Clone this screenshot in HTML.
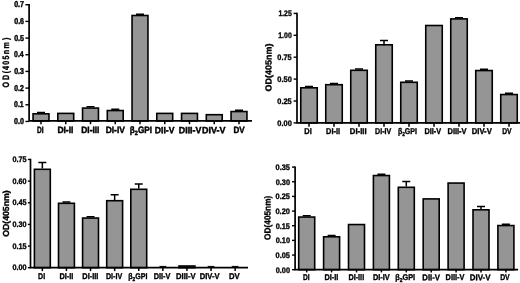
<!DOCTYPE html>
<html><head><meta charset="utf-8"><title>OD(405nm) bar charts</title>
<style>
html,body{margin:0;padding:0;background:#fff}
.t{font-family:"Liberation Sans","DejaVu Sans",sans-serif;font-weight:bold;fill:#000;stroke:#000;stroke-width:.35px}
</style></head><body>
<svg width="520" height="283" viewBox="0 0 520 283" style="display:block;filter:blur(.35px)"><rect width="520" height="283" fill="#fff"/><g id="TL"><path d="M41.00 113.00V112.55M37.00 112.55H45.00" stroke="#000" stroke-width="1.5" fill="none"/><rect x="33.05" y="113.80" width="15.90" height="7.15" fill="#959595" stroke="#000" stroke-width="1.6"/><path d="M41.00 120.95V124.20" stroke="#000" stroke-width="1.5"/><rect x="57.80" y="113.40" width="15.90" height="7.55" fill="#959595" stroke="#000" stroke-width="1.6"/><path d="M65.75 120.95V124.20" stroke="#000" stroke-width="1.5"/><path d="M90.50 107.25V106.80M86.50 106.80H94.50" stroke="#000" stroke-width="1.5" fill="none"/><rect x="82.55" y="108.05" width="15.90" height="12.90" fill="#959595" stroke="#000" stroke-width="1.6"/><path d="M90.50 120.95V124.20" stroke="#000" stroke-width="1.5"/><path d="M115.25 109.75V109.30M111.25 109.30H119.25" stroke="#000" stroke-width="1.5" fill="none"/><rect x="107.30" y="110.55" width="15.90" height="10.40" fill="#959595" stroke="#000" stroke-width="1.6"/><path d="M115.25 120.95V124.20" stroke="#000" stroke-width="1.5"/><path d="M140.00 14.70V14.25M136.00 14.25H144.00" stroke="#000" stroke-width="1.5" fill="none"/><rect x="132.05" y="15.50" width="15.90" height="105.45" fill="#959595" stroke="#000" stroke-width="1.6"/><path d="M140.00 120.95V124.20" stroke="#000" stroke-width="1.5"/><rect x="156.80" y="113.40" width="15.90" height="7.55" fill="#959595" stroke="#000" stroke-width="1.6"/><path d="M164.75 120.95V124.20" stroke="#000" stroke-width="1.5"/><rect x="181.55" y="113.40" width="15.90" height="7.55" fill="#959595" stroke="#000" stroke-width="1.6"/><path d="M189.50 120.95V124.20" stroke="#000" stroke-width="1.5"/><rect x="206.30" y="114.70" width="15.90" height="6.25" fill="#959595" stroke="#000" stroke-width="1.6"/><path d="M214.25 120.95V124.20" stroke="#000" stroke-width="1.5"/><path d="M239.00 110.75V110.30M235.00 110.30H243.00" stroke="#000" stroke-width="1.5" fill="none"/><rect x="231.05" y="111.55" width="15.90" height="9.40" fill="#959595" stroke="#000" stroke-width="1.6"/><path d="M239.00 120.95V124.20" stroke="#000" stroke-width="1.5"/><path d="M29.10 4.02V120.95H252.00" stroke="#000" stroke-width="1.7" fill="none" stroke-linejoin="miter"/><path d="M25.40 121.45H29.10" stroke="#000" stroke-width="1.4"/><text id="TL_t0" transform="rotate(.03 14.10 124.00)" x="14.10" y="124.00" textLength="9.91" lengthAdjust="spacingAndGlyphs" class="t" font-size="8.5" style="stroke-width:.45px">0.0</text><path d="M25.40 104.78H29.10" stroke="#000" stroke-width="1.4"/><text id="TL_t1" transform="rotate(.03 14.10 107.33)" x="14.10" y="107.33" textLength="9.60" lengthAdjust="spacingAndGlyphs" class="t" font-size="8.5" style="stroke-width:.45px">0.1</text><path d="M25.40 88.10H29.10" stroke="#000" stroke-width="1.4"/><text id="TL_t2" transform="rotate(.03 14.22 90.65)" x="14.22" y="90.65" textLength="9.49" lengthAdjust="spacingAndGlyphs" class="t" font-size="8.5" style="stroke-width:.45px">0.2</text><path d="M25.40 71.42H29.10" stroke="#000" stroke-width="1.4"/><text id="TL_t3" transform="rotate(.03 14.21 73.97)" x="14.21" y="73.97" textLength="9.80" lengthAdjust="spacingAndGlyphs" class="t" font-size="8.5" style="stroke-width:.45px">0.3</text><path d="M25.40 54.75H29.10" stroke="#000" stroke-width="1.4"/><text id="TL_t4" transform="rotate(.03 14.10 57.30)" x="14.10" y="57.30" textLength="9.58" lengthAdjust="spacingAndGlyphs" class="t" font-size="8.5" style="stroke-width:.45px">0.4</text><path d="M25.40 38.08H29.10" stroke="#000" stroke-width="1.4"/><text id="TL_t5" transform="rotate(.03 14.19 40.62)" x="14.19" y="40.62" textLength="9.81" lengthAdjust="spacingAndGlyphs" class="t" font-size="8.5" style="stroke-width:.45px">0.5</text><path d="M25.40 21.40H29.10" stroke="#000" stroke-width="1.4"/><text id="TL_t6" transform="rotate(.03 14.19 23.95)" x="14.19" y="23.95" textLength="9.86" lengthAdjust="spacingAndGlyphs" class="t" font-size="8.5" style="stroke-width:.45px">0.6</text><path d="M25.40 4.72H29.10" stroke="#000" stroke-width="1.4"/><text id="TL_t7" transform="rotate(.03 14.16 7.27)" x="14.16" y="7.27" textLength="9.76" lengthAdjust="spacingAndGlyphs" class="t" font-size="8.5" style="stroke-width:.45px">0.7</text><text id="TL_l0" transform="rotate(.03 37.08 133.30)" x="37.08" y="133.30" textLength="6.57" lengthAdjust="spacingAndGlyphs" class="t" font-size="9.2" style="stroke-width:.45px">DI</text><text id="TL_l1" transform="rotate(.03 57.38 133.30)" x="57.38" y="133.30" textLength="16.02" lengthAdjust="spacingAndGlyphs" class="t" font-size="9.2" style="stroke-width:.45px">DI-II</text><text id="TL_l2" transform="rotate(.03 81.24 133.30)" x="81.24" y="133.30" textLength="18.18" lengthAdjust="spacingAndGlyphs" class="t" font-size="9.2" style="stroke-width:.45px">DI-III</text><text id="TL_l3" transform="rotate(.03 105.68 133.30)" x="105.68" y="133.30" textLength="19.16" lengthAdjust="spacingAndGlyphs" class="t" font-size="9.2" style="stroke-width:.45px">DI-IV</text><text id="TL_l4" transform="rotate(.03 129.86 133.30)" x="129.86" y="133.30" textLength="22.12" lengthAdjust="spacingAndGlyphs" class="t" font-size="9.2" style="stroke-width:.45px">β<tspan font-size="6.26" dy="2.02">2</tspan><tspan dy="-2.02">GPI</tspan></text><text id="TL_l5" transform="rotate(.03 154.86 133.30)" x="154.86" y="133.30" textLength="19.53" lengthAdjust="spacingAndGlyphs" class="t" font-size="9.2" style="stroke-width:.45px">DII-V</text><text id="TL_l6" transform="rotate(.03 178.82 133.30)" x="178.82" y="133.30" textLength="22.58" lengthAdjust="spacingAndGlyphs" class="t" font-size="9.2" style="stroke-width:.45px">DIII-V</text><text id="TL_l7" transform="rotate(.03 202.06 133.30)" x="202.06" y="133.30" textLength="23.37" lengthAdjust="spacingAndGlyphs" class="t" font-size="9.2" style="stroke-width:.45px">DIV-V</text><text id="TL_l8" transform="rotate(.03 233.41 133.30)" x="233.41" y="133.30" textLength="11.15" lengthAdjust="spacingAndGlyphs" class="t" font-size="9.2" style="stroke-width:.45px">DV</text><text id="TL_title" class="t" font-size="9.2" transform="translate(9.30 87.50) rotate(-89.97) scale(0.77 1)" x="0.00 9.60 18.51 22.62 29.48 36.34 43.20 50.74 61.71">OD(405nm)</text></g><g id="TR"><path d="M309.00 87.00V86.55M305.00 86.55H313.00" stroke="#000" stroke-width="1.5" fill="none"/><rect x="300.75" y="87.80" width="16.50" height="35.10" fill="#959595" stroke="#000" stroke-width="1.6"/><path d="M309.00 122.90V126.70" stroke="#000" stroke-width="1.5"/><path d="M334.00 83.90V83.45M330.00 83.45H338.00" stroke="#000" stroke-width="1.5" fill="none"/><rect x="325.75" y="84.70" width="16.50" height="38.20" fill="#959595" stroke="#000" stroke-width="1.6"/><path d="M334.00 122.90V126.70" stroke="#000" stroke-width="1.5"/><path d="M359.00 69.50V69.05M355.00 69.05H363.00" stroke="#000" stroke-width="1.5" fill="none"/><rect x="350.75" y="70.30" width="16.50" height="52.60" fill="#959595" stroke="#000" stroke-width="1.6"/><path d="M359.00 122.90V126.70" stroke="#000" stroke-width="1.5"/><path d="M384.00 44.00V40.40M380.00 40.40H388.00" stroke="#000" stroke-width="1.5" fill="none"/><rect x="375.75" y="44.80" width="16.50" height="78.10" fill="#959595" stroke="#000" stroke-width="1.6"/><path d="M384.00 122.90V126.70" stroke="#000" stroke-width="1.5"/><path d="M409.00 81.50V81.05M405.00 81.05H413.00" stroke="#000" stroke-width="1.5" fill="none"/><rect x="400.75" y="82.30" width="16.50" height="40.60" fill="#959595" stroke="#000" stroke-width="1.6"/><path d="M409.00 122.90V126.70" stroke="#000" stroke-width="1.5"/><rect x="425.75" y="25.50" width="16.50" height="97.40" fill="#959595" stroke="#000" stroke-width="1.6"/><path d="M434.00 122.90V126.70" stroke="#000" stroke-width="1.5"/><path d="M459.00 18.10V17.65M455.00 17.65H463.00" stroke="#000" stroke-width="1.5" fill="none"/><rect x="450.75" y="18.90" width="16.50" height="104.00" fill="#959595" stroke="#000" stroke-width="1.6"/><path d="M459.00 122.90V126.70" stroke="#000" stroke-width="1.5"/><path d="M484.00 69.75V69.30M480.00 69.30H488.00" stroke="#000" stroke-width="1.5" fill="none"/><rect x="475.75" y="70.55" width="16.50" height="52.35" fill="#959595" stroke="#000" stroke-width="1.6"/><path d="M484.00 122.90V126.70" stroke="#000" stroke-width="1.5"/><path d="M509.00 93.75V93.30M505.00 93.30H513.00" stroke="#000" stroke-width="1.5" fill="none"/><rect x="500.75" y="94.55" width="16.50" height="28.35" fill="#959595" stroke="#000" stroke-width="1.6"/><path d="M509.00 122.90V126.70" stroke="#000" stroke-width="1.5"/><path d="M297.00 12.70V122.90H520.50" stroke="#000" stroke-width="1.7" fill="none" stroke-linejoin="miter"/><path d="M293.60 122.90H297.00" stroke="#000" stroke-width="1.4"/><text id="TR_t0" transform="rotate(.03 277.33 125.80)" x="277.33" y="125.80" textLength="14.47" lengthAdjust="spacingAndGlyphs" class="t" font-size="8.0">0.00</text><path d="M293.60 101.00H297.00" stroke="#000" stroke-width="1.4"/><text id="TR_t1" transform="rotate(.03 277.35 103.90)" x="277.35" y="103.90" textLength="14.34" lengthAdjust="spacingAndGlyphs" class="t" font-size="8.0">0.25</text><path d="M293.60 79.10H297.00" stroke="#000" stroke-width="1.4"/><text id="TR_t2" transform="rotate(.03 277.33 82.00)" x="277.33" y="82.00" textLength="14.47" lengthAdjust="spacingAndGlyphs" class="t" font-size="8.0">0.50</text><path d="M293.60 57.20H297.00" stroke="#000" stroke-width="1.4"/><text id="TR_t3" transform="rotate(.03 277.35 60.10)" x="277.35" y="60.10" textLength="14.34" lengthAdjust="spacingAndGlyphs" class="t" font-size="8.0">0.75</text><path d="M293.60 35.30H297.00" stroke="#000" stroke-width="1.4"/><text id="TR_t4" transform="rotate(.03 278.28 38.20)" x="278.28" y="38.20" textLength="13.48" lengthAdjust="spacingAndGlyphs" class="t" font-size="8.0">1.00</text><path d="M293.60 13.40H297.00" stroke="#000" stroke-width="1.4"/><text id="TR_t5" transform="rotate(.03 278.39 16.30)" x="278.39" y="16.30" textLength="13.34" lengthAdjust="spacingAndGlyphs" class="t" font-size="8.0">1.25</text><text id="TR_l0" transform="rotate(.03 304.37 134.30)" x="304.37" y="134.30" textLength="7.43" lengthAdjust="spacingAndGlyphs" class="t" font-size="8.5">DI</text><text id="TR_l1" transform="rotate(.03 326.08 134.30)" x="326.08" y="134.30" textLength="13.99" lengthAdjust="spacingAndGlyphs" class="t" font-size="8.5">DI-II</text><text id="TR_l2" transform="rotate(.03 349.84 134.30)" x="349.84" y="134.30" textLength="16.76" lengthAdjust="spacingAndGlyphs" class="t" font-size="8.5">DI-III</text><text id="TR_l3" transform="rotate(.03 375.07 134.30)" x="375.07" y="134.30" textLength="16.12" lengthAdjust="spacingAndGlyphs" class="t" font-size="8.5">DI-IV</text><text id="TR_l4" transform="rotate(.03 397.92 134.30)" x="397.92" y="134.30" textLength="19.04" lengthAdjust="spacingAndGlyphs" class="t" font-size="8.5">β<tspan font-size="5.78" dy="1.87">2</tspan><tspan dy="-1.87">GPI</tspan></text><text id="TR_l5" transform="rotate(.03 424.46 134.30)" x="424.46" y="134.30" textLength="16.73" lengthAdjust="spacingAndGlyphs" class="t" font-size="8.5">DII-V</text><text id="TR_l6" transform="rotate(.03 447.48 134.30)" x="447.48" y="134.30" textLength="19.14" lengthAdjust="spacingAndGlyphs" class="t" font-size="8.5">DIII-V</text><text id="TR_l7" transform="rotate(.03 471.70 134.30)" x="471.70" y="134.30" textLength="20.08" lengthAdjust="spacingAndGlyphs" class="t" font-size="8.5">DIV-V</text><text id="TR_l8" transform="rotate(.03 502.21 134.30)" x="502.21" y="134.30" textLength="9.42" lengthAdjust="spacingAndGlyphs" class="t" font-size="8.5">DV</text><text id="TR_title" class="t" font-size="8.8" transform="translate(271.50 91.44) rotate(-89.97)" textLength="47.93" lengthAdjust="spacingAndGlyphs">OD(405nm)</text></g><g id="BL"><path d="M42.35 168.50V162.50M38.35 162.50H46.35" stroke="#000" stroke-width="1.5" fill="none"/><rect x="34.40" y="169.30" width="15.90" height="98.40" fill="#959595" stroke="#000" stroke-width="1.6"/><path d="M42.35 267.70V271.10" stroke="#000" stroke-width="1.5"/><path d="M66.45 202.50V202.05M62.45 202.05H70.45" stroke="#000" stroke-width="1.5" fill="none"/><rect x="58.50" y="203.30" width="15.90" height="64.40" fill="#959595" stroke="#000" stroke-width="1.6"/><path d="M66.45 267.70V271.10" stroke="#000" stroke-width="1.5"/><path d="M90.55 217.25V216.80M86.55 216.80H94.55" stroke="#000" stroke-width="1.5" fill="none"/><rect x="82.60" y="218.05" width="15.90" height="49.65" fill="#959595" stroke="#000" stroke-width="1.6"/><path d="M90.55 267.70V271.10" stroke="#000" stroke-width="1.5"/><path d="M114.65 199.90V194.70M110.65 194.70H118.65" stroke="#000" stroke-width="1.5" fill="none"/><rect x="106.70" y="200.70" width="15.90" height="67.00" fill="#959595" stroke="#000" stroke-width="1.6"/><path d="M114.65 267.70V271.10" stroke="#000" stroke-width="1.5"/><path d="M138.75 188.50V184.10M134.75 184.10H142.75" stroke="#000" stroke-width="1.5" fill="none"/><rect x="130.80" y="189.30" width="15.90" height="78.40" fill="#959595" stroke="#000" stroke-width="1.6"/><path d="M138.75 267.70V271.10" stroke="#000" stroke-width="1.5"/><path d="M162.85 267.70V266.40M159.45 266.40H166.25" stroke="#000" stroke-width="1.0" fill="none"/><path d="M162.85 267.70V271.10" stroke="#000" stroke-width="1.5"/><rect x="179.00" y="266.00" width="15.90" height="1.70" fill="#959595" stroke="#000" stroke-width="1.6"/><path d="M186.95 267.70V271.10" stroke="#000" stroke-width="1.5"/><path d="M211.05 267.70V266.40M207.65 266.40H214.45" stroke="#000" stroke-width="1.0" fill="none"/><path d="M211.05 267.70V271.10" stroke="#000" stroke-width="1.5"/><path d="M235.15 267.70V266.40M231.75 266.40H238.55" stroke="#000" stroke-width="1.0" fill="none"/><path d="M235.15 267.70V271.10" stroke="#000" stroke-width="1.5"/><path d="M30.50 158.75V267.70H248.00" stroke="#000" stroke-width="1.7" fill="none" stroke-linejoin="miter"/><path d="M27.90 267.70H30.50" stroke="#000" stroke-width="1.4"/><text id="BL_t0" transform="rotate(.03 12.52 270.40)" x="12.52" y="270.40" textLength="14.04" lengthAdjust="spacingAndGlyphs" class="t" font-size="8.0">0.00</text><path d="M27.90 246.05H30.50" stroke="#000" stroke-width="1.4"/><text id="BL_t1" transform="rotate(.03 12.44 248.75)" x="12.44" y="248.75" textLength="14.15" lengthAdjust="spacingAndGlyphs" class="t" font-size="8.0">0.15</text><path d="M27.90 224.40H30.50" stroke="#000" stroke-width="1.4"/><text id="BL_t2" transform="rotate(.03 12.50 227.10)" x="12.50" y="227.10" textLength="14.04" lengthAdjust="spacingAndGlyphs" class="t" font-size="8.0">0.30</text><path d="M27.90 202.75H30.50" stroke="#000" stroke-width="1.4"/><text id="BL_t3" transform="rotate(.03 12.44 205.45)" x="12.44" y="205.45" textLength="14.15" lengthAdjust="spacingAndGlyphs" class="t" font-size="8.0">0.45</text><path d="M27.90 181.10H30.50" stroke="#000" stroke-width="1.4"/><text id="BL_t4" transform="rotate(.03 12.51 183.80)" x="12.51" y="183.80" textLength="14.04" lengthAdjust="spacingAndGlyphs" class="t" font-size="8.0">0.60</text><path d="M27.90 159.45H30.50" stroke="#000" stroke-width="1.4"/><text id="BL_t5" transform="rotate(.03 12.44 162.15)" x="12.44" y="162.15" textLength="14.15" lengthAdjust="spacingAndGlyphs" class="t" font-size="8.0">0.75</text><text id="BL_l0" transform="rotate(.03 38.06 279.00)" x="38.06" y="279.00" textLength="7.05" lengthAdjust="spacingAndGlyphs" class="t" font-size="8.3">DI</text><text id="BL_l1" transform="rotate(.03 59.41 279.00)" x="59.41" y="279.00" textLength="13.89" lengthAdjust="spacingAndGlyphs" class="t" font-size="8.3">DI-II</text><text id="BL_l2" transform="rotate(.03 82.29 279.00)" x="82.29" y="279.00" textLength="16.12" lengthAdjust="spacingAndGlyphs" class="t" font-size="8.3">DI-III</text><text id="BL_l3" transform="rotate(.03 105.88 279.00)" x="105.88" y="279.00" textLength="16.30" lengthAdjust="spacingAndGlyphs" class="t" font-size="8.3">DI-IV</text><text id="BL_l4" transform="rotate(.03 128.23 279.00)" x="128.23" y="279.00" textLength="19.27" lengthAdjust="spacingAndGlyphs" class="t" font-size="8.3">β<tspan font-size="5.64" dy="1.83">2</tspan><tspan dy="-1.83">GPI</tspan></text><text id="BL_l5" transform="rotate(.03 153.65 279.00)" x="153.65" y="279.00" textLength="16.63" lengthAdjust="spacingAndGlyphs" class="t" font-size="8.3">DII-V</text><text id="BL_l6" transform="rotate(.03 176.08 279.00)" x="176.08" y="279.00" textLength="19.50" lengthAdjust="spacingAndGlyphs" class="t" font-size="8.3">DIII-V</text><text id="BL_l7" transform="rotate(.03 199.66 279.00)" x="199.66" y="279.00" textLength="19.87" lengthAdjust="spacingAndGlyphs" class="t" font-size="8.3">DIV-V</text><text id="BL_l8" transform="rotate(.03 229.01 279.00)" x="229.01" y="279.00" textLength="10.74" lengthAdjust="spacingAndGlyphs" class="t" font-size="8.3">DV</text><text id="BL_title" class="t" font-size="8.8" transform="translate(9.00 236.85) rotate(-89.97)" textLength="46.56" lengthAdjust="spacingAndGlyphs">OD(405nm)</text></g><g id="BR"><path d="M306.70 216.25V215.80M302.70 215.80H310.70" stroke="#000" stroke-width="1.5" fill="none"/><rect x="298.70" y="217.05" width="16.00" height="52.65" fill="#959595" stroke="#000" stroke-width="1.6"/><path d="M306.70 269.70V272.40" stroke="#000" stroke-width="1.5"/><path d="M331.60 236.00V235.55M327.60 235.55H335.60" stroke="#000" stroke-width="1.5" fill="none"/><rect x="323.60" y="236.80" width="16.00" height="32.90" fill="#959595" stroke="#000" stroke-width="1.6"/><path d="M331.60 269.70V272.40" stroke="#000" stroke-width="1.5"/><rect x="348.50" y="224.55" width="16.00" height="45.15" fill="#959595" stroke="#000" stroke-width="1.6"/><path d="M356.50 269.70V272.40" stroke="#000" stroke-width="1.5"/><path d="M381.40 174.75V174.30M377.40 174.30H385.40" stroke="#000" stroke-width="1.5" fill="none"/><rect x="373.40" y="175.55" width="16.00" height="94.15" fill="#959595" stroke="#000" stroke-width="1.6"/><path d="M381.40 269.70V272.40" stroke="#000" stroke-width="1.5"/><path d="M406.30 186.50V181.60M402.30 181.60H410.30" stroke="#000" stroke-width="1.5" fill="none"/><rect x="398.30" y="187.30" width="16.00" height="82.40" fill="#959595" stroke="#000" stroke-width="1.6"/><path d="M406.30 269.70V272.40" stroke="#000" stroke-width="1.5"/><rect x="423.20" y="198.90" width="16.00" height="70.80" fill="#959595" stroke="#000" stroke-width="1.6"/><path d="M431.20 269.70V272.40" stroke="#000" stroke-width="1.5"/><rect x="448.10" y="183.05" width="16.00" height="86.65" fill="#959595" stroke="#000" stroke-width="1.6"/><path d="M456.10 269.70V272.40" stroke="#000" stroke-width="1.5"/><path d="M481.00 209.00V206.60M477.00 206.60H485.00" stroke="#000" stroke-width="1.5" fill="none"/><rect x="473.00" y="209.80" width="16.00" height="59.90" fill="#959595" stroke="#000" stroke-width="1.6"/><path d="M481.00 269.70V272.40" stroke="#000" stroke-width="1.5"/><path d="M505.90 224.75V224.30M501.90 224.30H509.90" stroke="#000" stroke-width="1.5" fill="none"/><rect x="497.90" y="225.55" width="16.00" height="44.15" fill="#959595" stroke="#000" stroke-width="1.6"/><path d="M505.90 269.70V272.40" stroke="#000" stroke-width="1.5"/><path d="M295.10 166.38V269.70H518.10" stroke="#000" stroke-width="1.7" fill="none" stroke-linejoin="miter"/><path d="M292.00 269.70H295.10" stroke="#000" stroke-width="1.4"/><text id="BR_t0" transform="rotate(.03 275.74 272.60)" x="275.74" y="272.60" textLength="14.29" lengthAdjust="spacingAndGlyphs" class="t" font-size="8.0">0.00</text><path d="M292.00 255.04H295.10" stroke="#000" stroke-width="1.4"/><text id="BR_t1" transform="rotate(.03 275.59 257.94)" x="275.59" y="257.94" textLength="14.38" lengthAdjust="spacingAndGlyphs" class="t" font-size="8.0">0.05</text><path d="M292.00 240.38H295.10" stroke="#000" stroke-width="1.4"/><text id="BR_t2" transform="rotate(.03 275.73 243.28)" x="275.73" y="243.28" textLength="14.28" lengthAdjust="spacingAndGlyphs" class="t" font-size="8.0">0.10</text><path d="M292.00 225.72H295.10" stroke="#000" stroke-width="1.4"/><text id="BR_t3" transform="rotate(.03 275.63 228.62)" x="275.63" y="228.62" textLength="14.32" lengthAdjust="spacingAndGlyphs" class="t" font-size="8.0">0.15</text><path d="M292.00 211.06H295.10" stroke="#000" stroke-width="1.4"/><text id="BR_t4" transform="rotate(.03 275.46 213.96)" x="275.46" y="213.96" textLength="14.49" lengthAdjust="spacingAndGlyphs" class="t" font-size="8.0">0.20</text><path d="M292.00 196.40H295.10" stroke="#000" stroke-width="1.4"/><text id="BR_t5" transform="rotate(.03 275.62 199.30)" x="275.62" y="199.30" textLength="14.33" lengthAdjust="spacingAndGlyphs" class="t" font-size="8.0">0.25</text><path d="M292.00 181.74H295.10" stroke="#000" stroke-width="1.4"/><text id="BR_t6" transform="rotate(.03 275.73 184.64)" x="275.73" y="184.64" textLength="14.33" lengthAdjust="spacingAndGlyphs" class="t" font-size="8.0">0.30</text><path d="M292.00 167.08H295.10" stroke="#000" stroke-width="1.4"/><text id="BR_t7" transform="rotate(.03 275.59 169.98)" x="275.59" y="169.98" textLength="14.38" lengthAdjust="spacingAndGlyphs" class="t" font-size="8.0">0.35</text><text id="BR_l0" transform="rotate(.03 303.06 280.20)" x="303.06" y="280.20" textLength="6.67" lengthAdjust="spacingAndGlyphs" class="t" font-size="8.3">DI</text><text id="BR_l1" transform="rotate(.03 324.41 280.20)" x="324.41" y="280.20" textLength="13.89" lengthAdjust="spacingAndGlyphs" class="t" font-size="8.3">DI-II</text><text id="BR_l2" transform="rotate(.03 348.38 280.20)" x="348.38" y="280.20" textLength="15.78" lengthAdjust="spacingAndGlyphs" class="t" font-size="8.3">DI-III</text><text id="BR_l3" transform="rotate(.03 372.95 280.20)" x="372.95" y="280.20" textLength="16.85" lengthAdjust="spacingAndGlyphs" class="t" font-size="8.3">DI-IV</text><text id="BR_l4" transform="rotate(.03 395.18 280.20)" x="395.18" y="280.20" textLength="19.98" lengthAdjust="spacingAndGlyphs" class="t" font-size="8.3">β<tspan font-size="5.64" dy="1.83">2</tspan><tspan dy="-1.83">GPI</tspan></text><text id="BR_l5" transform="rotate(.03 422.30 280.20)" x="422.30" y="280.20" textLength="17.76" lengthAdjust="spacingAndGlyphs" class="t" font-size="8.3">DII-V</text><text id="BR_l6" transform="rotate(.03 445.61 280.20)" x="445.61" y="280.20" textLength="18.78" lengthAdjust="spacingAndGlyphs" class="t" font-size="8.3">DIII-V</text><text id="BR_l7" transform="rotate(.03 469.79 280.20)" x="469.79" y="280.20" textLength="20.73" lengthAdjust="spacingAndGlyphs" class="t" font-size="8.3">DIV-V</text><text id="BR_l8" transform="rotate(.03 500.13 280.20)" x="500.13" y="280.20" textLength="9.57" lengthAdjust="spacingAndGlyphs" class="t" font-size="8.3">DV</text><text id="BR_title" class="t" font-size="8.8" transform="translate(270.60 239.91) rotate(-89.97)" textLength="44.21" lengthAdjust="spacingAndGlyphs">OD(405nm)</text></g></svg>
</body></html>
